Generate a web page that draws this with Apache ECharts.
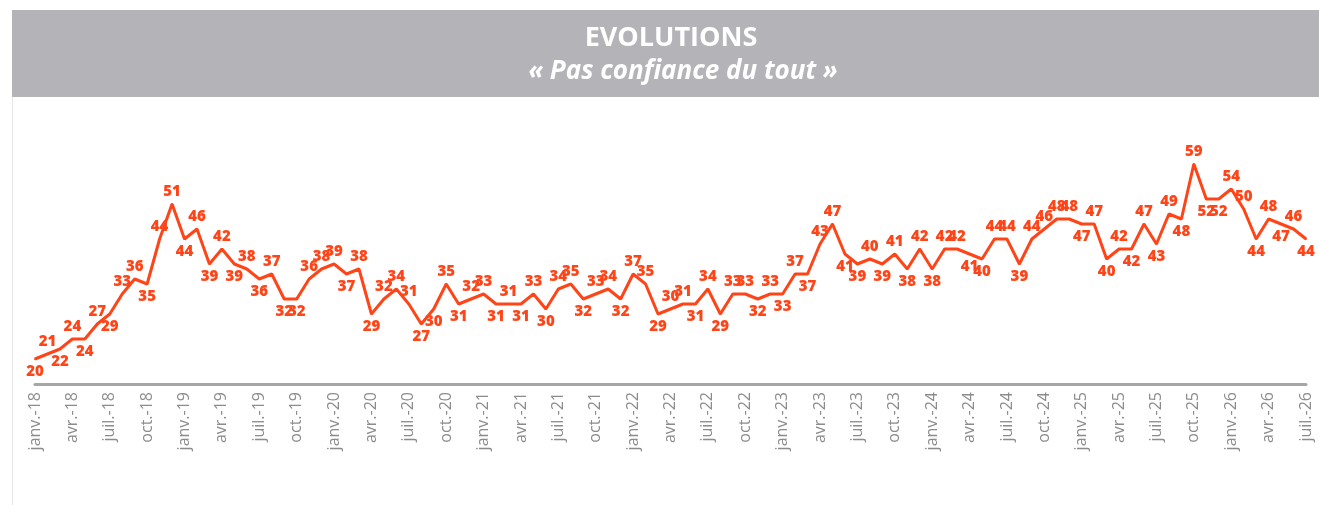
<!DOCTYPE html>
<html>
<head>
<meta charset="utf-8">
<script src="https://cdn.jsdelivr.net/npm/echarts@6/dist/echarts.min.js"></script>
<style>
  html, body { margin: 0; padding: 0; background: #fff; }
  #main { width: 1319px; height: 505px; }
</style>
</head>
<body>
<div id="main"></div>
<script>
// mois (abréviations utilisées sur l'axe)
var moisNoms = ['janv.', 'févr.', 'mars', 'avr.', 'mai', 'juin', 'juil.', 'août', 'sept.', 'oct.', 'nov.', 'déc.'];
var anneeDebut = 18;
var nbMois = 103; // janv.-18 -> juil.-26

// % « Pas confiance du tout », un point par mois
var valeurs = [
    20, 21, 22, 24, 24, 27, 29, 33, 36, 35, 44, 51,   // 2018
    44, 46, 39, 42, 39, 38, 36, 37, 32, 32, 36, 38,   // 2019
    39, 37, 38, 29, 32, 34, 31, 27, 30, 35, 31, 32,   // 2020
    33, 31, 31, 31, 33, 30, 34, 35, 32, 33, 34, 32,   // 2021
    37, 35, 29, 30, 31, 31, 34, 29, 33, 33, 32, 33,   // 2022
    33, 37, 37, 43, 47, 41, 39, 40, 39, 41, 38, 42,   // 2023
    38, 42, 42, 41, 40, 44, 44, 39, 44, 46, 48, 48,   // 2024
    47, 47, 40, 42, 42, 47, 43, 49, 48, 59, 52, 52,   // 2025
    54, 50, 44, 48, 47, 46, 44                        // 2026
];

var categories = [];
for (var i = 0; i < nbMois; i++) {
    categories.push(moisNoms[i % 12] + '-' + (anneeDebut + Math.floor(i / 12)));
}

// étiquette au-dessus ou en dessous selon les voisins
function cote(i) {
    var v = valeurs[i];
    var p = i > 0 ? valeurs[i - 1] : valeurs[i + 1];
    var n = i < valeurs.length - 1 ? valeurs[i + 1] : valeurs[i - 1];
    var m = (p + n) / 2;
    if (v > m) return 'top';
    if (v < m) return 'bottom';
    return v >= p ? 'top' : 'bottom';
}

var rouge = '#ff4418';

var myChart = echarts.init(document.getElementById('main'));

option = {
    backgroundColor: '#ffffff',
    animation: false,
    graphic: [
        {
            type: 'rect',
            shape: { x: 12, y: 10, width: 1307, height: 87 },
            style: { fill: '#b4b3b8' },
            z: -1
        },
        {
            type: 'line',
            shape: { x1: 12.5, y1: 97, x2: 12.5, y2: 505 },
            style: { stroke: '#e6e6e6', lineWidth: 1 }
        },
        {
            type: 'text',
            x: 671, y: 38,
            style: {
                text: 'EVOLUTIONS',
                fill: '#ffffff',
                font: 'bold 27px "Open Sans"',
                align: 'center',
                verticalAlign: 'middle'
            }
        },
        {
            type: 'text',
            x: 683, y: 72,
            style: {
                text: '« Pas confiance du tout »',
                fill: '#ffffff',
                font: 'italic bold 26px "Open Sans"',
                align: 'center',
                verticalAlign: 'middle'
            }
        }
    ],
    grid: {
        left: 35,
        right: 13,
        top: 159,
        bottom: 121
    },
    xAxis: {
        type: 'category',
        data: categories,
        boundaryGap: false,
        axisLine: { lineStyle: { color: '#a6a6a6', width: 3 } },
        axisTick: { show: false },
        axisLabel: {
            interval: 2,
            rotate: 90,
            margin: 8,
            color: '#8c8c8c',
            fontFamily: 'Open Sans',
            fontSize: 16
        },
        splitLine: { show: false }
    },
    yAxis: {
        type: 'value',
        min: 15,
        max: 60,
        show: false,
        splitLine: { show: false }
    },
    series: [
        {
            type: 'line',
            data: valeurs.map(function (v, i) {
                return { value: v, label: { position: cote(i) } };
            }),
            symbol: 'circle',
            symbolSize: 2,
            itemStyle: { color: rouge },
            lineStyle: { color: rouge, width: 3 },
            label: {
                show: true,
                distance: 4,
                color: rouge,
                fontFamily: 'Open Sans',
                fontWeight: 800,
                fontSize: 15
            },
            labelLayout: { hideOverlap: false }
        }
    ]
};

myChart.setOption(option);
</script>
</body>
</html>
